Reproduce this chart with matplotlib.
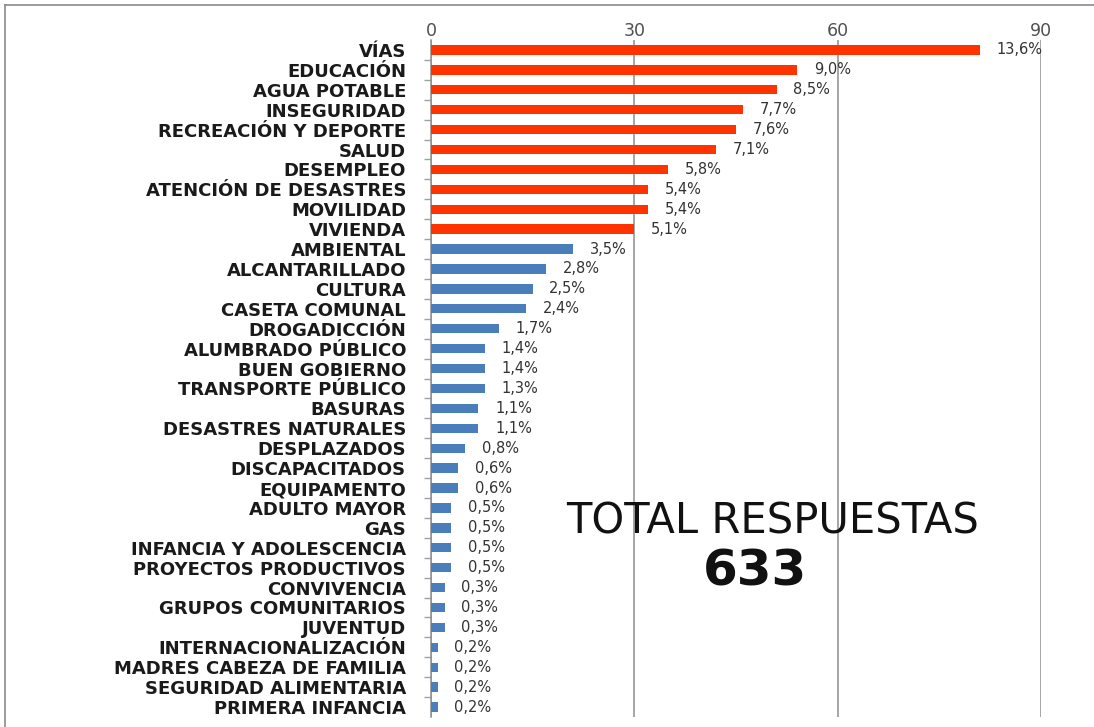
import matplotlib
matplotlib.use("Agg")
import matplotlib.pyplot as plt
from matplotlib.lines import Line2D
from matplotlib.ticker import FixedLocator

categories = ["VÍAS", "EDUCACIÓN", "AGUA POTABLE", "INSEGURIDAD", "RECREACIÓN Y DEPORTE",
              "SALUD", "DESEMPLEO", "ATENCIÓN DE DESASTRES", "MOVILIDAD", "VIVIENDA",
              "AMBIENTAL", "ALCANTARILLADO", "CULTURA", "CASETA COMUNAL", "DROGADICCIÓN",
              "ALUMBRADO PÚBLICO", "BUEN GOBIERNO", "TRANSPORTE PÚBLICO", "BASURAS",
              "DESASTRES NATURALES", "DESPLAZADOS", "DISCAPACITADOS", "EQUIPAMENTO",
              "ADULTO MAYOR", "GAS", "INFANCIA Y ADOLESCENCIA", "PROYECTOS PRODUCTIVOS",
              "CONVIVENCIA", "GRUPOS COMUNITARIOS", "JUVENTUD", "INTERNACIONALIZACIÓN",
              "MADRES CABEZA DE FAMILIA", "SEGURIDAD ALIMENTARIA", "PRIMERA INFANCIA"]
counts = [81, 54, 51, 46, 45, 42, 35, 32, 32, 30,
          21, 17, 15, 14, 10, 8, 8, 8, 7, 7,
          5, 4, 4, 3, 3, 3, 3, 2, 2, 2, 1, 1, 1, 1]
pct_labels = ["13,6%", "9,0%", "8,5%", "7,7%", "7,6%", "7,1%", "5,8%", "5,4%", "5,4%", "5,1%",
              "3,5%", "2,8%", "2,5%", "2,4%", "1,7%", "1,4%", "1,4%", "1,3%", "1,1%", "1,1%",
              "0,8%", "0,6%", "0,6%", "0,5%", "0,5%", "0,5%", "0,5%", "0,3%", "0,3%", "0,3%",
              "0,2%", "0,2%", "0,2%", "0,2%"]
n_top = 10
x_ticks = [0, 30, 60, 90]
total_title = "TOTAL RESPUESTAS"
total_value = "633"

RED = "#FF3300"
BLUE = "#4A7EBB"
GRID = "#8E8E8E"

fig = plt.figure(figsize=(10.94, 7.27), dpi=100)
fig.patch.set_facecolor("white")
ax = fig.add_axes([431 / 1094, 1 - 717 / 727, 610 / 1094, 677 / 727])

ypos = list(range(len(categories)))
colors = [RED if i < n_top else BLUE for i in ypos]
ax.barh(ypos, counts, height=0.47, color=colors, zorder=3)

ax.set_xlim(0, 90)
ax.set_ylim(len(categories) - 0.5, -0.5)

ax.xaxis.tick_top()
ax.set_xticks(x_ticks)
ax.set_xticklabels([str(t) for t in x_ticks], fontsize=12.5, color="#505050")
ax.tick_params(axis="x", length=0, pad=0)
ax.grid(axis="x", color=GRID, linewidth=1.1, zorder=1)

ax.set_yticks(ypos)
ax.set_yticklabels(categories, fontsize=13, fontweight="bold", color="#1a1a1a")
ax.tick_params(axis="y", which="major", length=0, pad=18)
ax.yaxis.set_minor_locator(FixedLocator([i + 0.5 for i in range(0, len(categories) - 1)]))
ax.tick_params(axis="y", which="minor", length=5, color="#a0a0a0", width=1)

for s in ["top", "right", "bottom"]:
    ax.spines[s].set_visible(False)
ax.spines["left"].set_color(GRID)
ax.spines["left"].set_linewidth(1.1)

for i, (v, lab) in enumerate(zip(counts, pct_labels)):
    ax.annotate(lab, xy=(v, i), xytext=(12, 0), textcoords="offset points",
                va="center", ha="left", fontsize=10.5, color="#333333", zorder=4)

fig.text(773 / 1094, 1 - 522 / 727, total_title, fontsize=30, color="#111111",
         ha="center", va="center")
fig.text(755 / 1094, 1 - 571 / 727, total_value, fontsize=36, fontweight="bold",
         color="#111111", ha="center", va="center")

# outer chart frame (top and left edges visible)
fig.add_artist(Line2D([5 / 1094, 5 / 1094], [0, 1 - 5 / 727], transform=fig.transFigure,
                      color="#8a8a8a", linewidth=1.2))
fig.add_artist(Line2D([5 / 1094, 1], [1 - 5 / 727, 1 - 5 / 727], transform=fig.transFigure,
                      color="#8a8a8a", linewidth=1.2))

fig.savefig("out.png", dpi=100)
